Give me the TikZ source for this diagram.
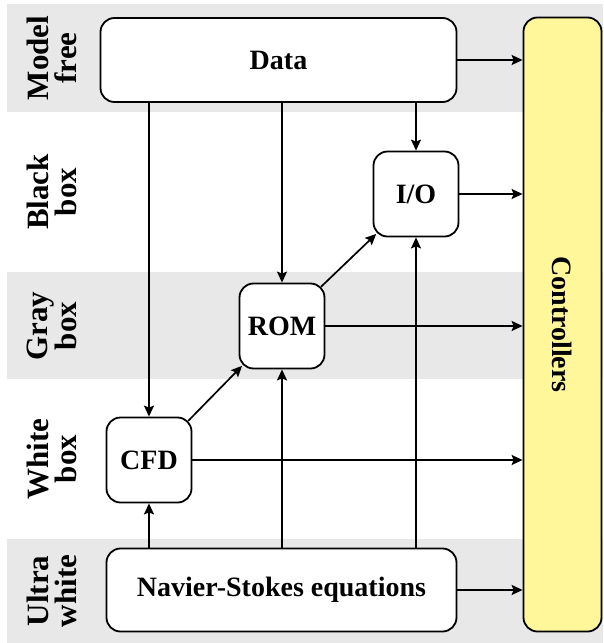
\documentclass[tikz,border=0pt]{standalone}
\usepackage{fontspec}
\setmainfont{Liberation Serif}
\usetikzlibrary{arrows.meta}
\definecolor{bandcolor}{RGB}{232,232,232}
\definecolor{ctrlcolor}{RGB}{255,247,153}

\begin{document}
\begin{tikzpicture}[x=1pt,y=-1pt]
  \tikzset{
    block/.style={
      draw,
      line width=1.8pt,
      rounded corners=14pt,
      fill=white,
      inner sep=0pt,
      align=center,
      font=\fontsize{28}{30}\selectfont\bfseries
    },
    smallblock/.style={
      block,
      minimum width=85pt,
      minimum height=85pt
    },
    layer/.style={
      rotate=90,
      align=center,
      font=\fontsize{31}{28}\selectfont\bfseries
    },
    flow/.style={
      line width=1.7pt,
      -{Stealth[length=11pt,width=10pt,inset=2pt]}
    }
  }
  \useasboundingbox (0,0) rectangle (603,643);

  % Draw the background bands
  \fill[bandcolor] (7,4) rectangle (603,112);
  \fill[bandcolor] (7,272) rectangle (603,379);
  \fill[bandcolor] (7,539) rectangle (603,643);

  % Layer labels on the left
  \node[layer] at (52,58) (lbfree) {Model\\free};
  \node[layer] at (52,192) (lbblack) {Black\\box};
  \node[layer] at (52,326) (lbgray) {Gray\\box};
  \node[layer] at (52,459) (lbwhite) {White\\box};
  \node[layer] at (52,591) (lbultra) {Ultra\\white};

  % Model blocks
  \node[block, minimum width=356pt, minimum height=84pt] at (278.5,60) (data) {Data};
  \node[block, minimum width=350pt, minimum height=83pt] at (281.5,590) (nse) {Navier-Stokes equations};
  \node[smallblock] at (416,194) (io) {I/O};
  \node[smallblock] at (282,326) (rom) {ROM};
  \node[smallblock] at (149,460) (cfd) {CFD};
  \node[block, fill=ctrlcolor, minimum width=78pt, minimum height=614pt] at (562.5,324.5) (ctrl) {};
  \node[rotate=-90, font=\fontsize{28}{30}\selectfont\bfseries] at (ctrl.center) (ctrltext) {Controllers};

  % Data feeds the models
  \draw[flow] (data.south -| cfd.north) -- (cfd.north);
  \draw[flow] (data.south -| rom.north) -- (rom.north);
  \draw[flow] (data.south -| io.north) -- (io.north);

  % Equations feed the models
  \draw[flow] (nse.north -| cfd.south) -- (cfd.south);
  \draw[flow] (nse.north -| rom.south) -- (rom.south);
  \draw[flow] (nse.north -| io.south) -- (io.south);

  % Reduction steps
  \draw[flow, shorten <=-6pt, shorten >=-5pt] (cfd.north east) -- (rom.south west);
  \draw[flow, shorten <=-6pt, shorten >=-5pt] (rom.north east) -- (io.south west);

  % Everything goes to the controllers
  \foreach \src in {data, io, rom, cfd, nse}
    \draw[flow] (\src.east) -- (\src.east -| ctrl.west);

\end{tikzpicture}
\end{document}
